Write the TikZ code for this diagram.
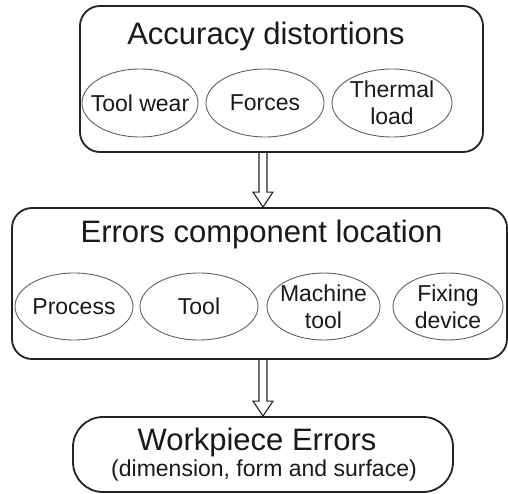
\documentclass[tikz,border=0pt]{standalone}
\usepackage{fontspec}
\setmainfont{Liberation Sans}
\usetikzlibrary{shapes.geometric, positioning, calc}
\definecolor{linegray}{RGB}{35,35,35}
\definecolor{ovalgray}{RGB}{95,95,95}
\definecolor{textgray}{RGB}{25,25,25}
\tikzset{>=stealth}
\tikzset{
  groupbox/.style={draw=linegray, line width=1.8pt, rounded corners=20pt, inner sep=0pt},
  oval/.style={ellipse, draw=ovalgray, line width=0.9pt, inner xsep=-12pt, inner ysep=-2pt, align=center, text=textgray, font=\fontsize{23}{27}\selectfont},
  headline/.style={anchor=base, text=textgray, font=\fontsize{31}{35}\selectfont},
  subline/.style={anchor=base, text=textgray, font=\fontsize{23}{27}\selectfont},
  hollow/.style={draw=linegray, line width=1.1pt, line join=miter}
}
\newcommand{\hollowarrow}[2]{\draw[hollow] ($(#1)+(-4,0)$) -- ($(#2)+(-4,-15)$) -- ($(#2)+(-10,-15)$) -- (#2) -- ($(#2)+(10,-15)$) -- ($(#2)+(4,-15)$) -- ($(#1)+(4,0)$);}

\begin{document}
\begin{tikzpicture}[x=1pt, y=-1pt]
	\useasboundingbox (0,0) rectangle (508,494);

	% the three groups
	\node[groupbox, minimum width=403pt, minimum height=146pt] (distbox) at (281.5,79) {};
	\node[groupbox, minimum width=495pt, minimum height=151pt] (errbox) at (259.5,283.5) {};
	\node[groupbox, rounded corners=30pt, minimum width=380pt, minimum height=75pt] (wpbox) at (263,454.5) {};

	\node[headline] (disttitle) at (266,45) {Accuracy distortions};
	\node[headline] (errtitle) at (261.5,243) {Errors component location};
	\node[headline] (wptitle) at (257,450) {Workpiece Errors};
	\node[subline] (wpsub) at (264,476) {(dimension, form and surface)};

	% sources of distortion
	\node[oval, minimum width=116pt, minimum height=68pt] (toolwear) at (140,103) {Tool wear};
	\node[oval, minimum width=118pt, minimum height=68pt] (forces) at (265,103) {Forces};
	\node[oval, minimum width=120pt, minimum height=68pt] (thermal) at (392,103) {Thermal\\load};

	% where the errors sit
	\node[oval, minimum width=118pt, minimum height=67pt] (process) at (74,306.5) {Process};
	\node[oval, minimum width=118pt, minimum height=67pt] (tool) at (199,306.5) {Tool};
	\node[oval, minimum width=113pt, minimum height=67pt] (machine) at (323.5,306.5) {Machine\\tool};
	\node[oval, minimum width=110pt, minimum height=67pt] (fixing) at (448,306.5) {Fixing\\device};

	\coordinate (axis) at (263,0);
	\hollowarrow{distbox.south -| axis}{errbox.north -| axis}
	\hollowarrow{errbox.south -| axis}{wpbox.north -| axis}
\end{tikzpicture}
\end{document}
